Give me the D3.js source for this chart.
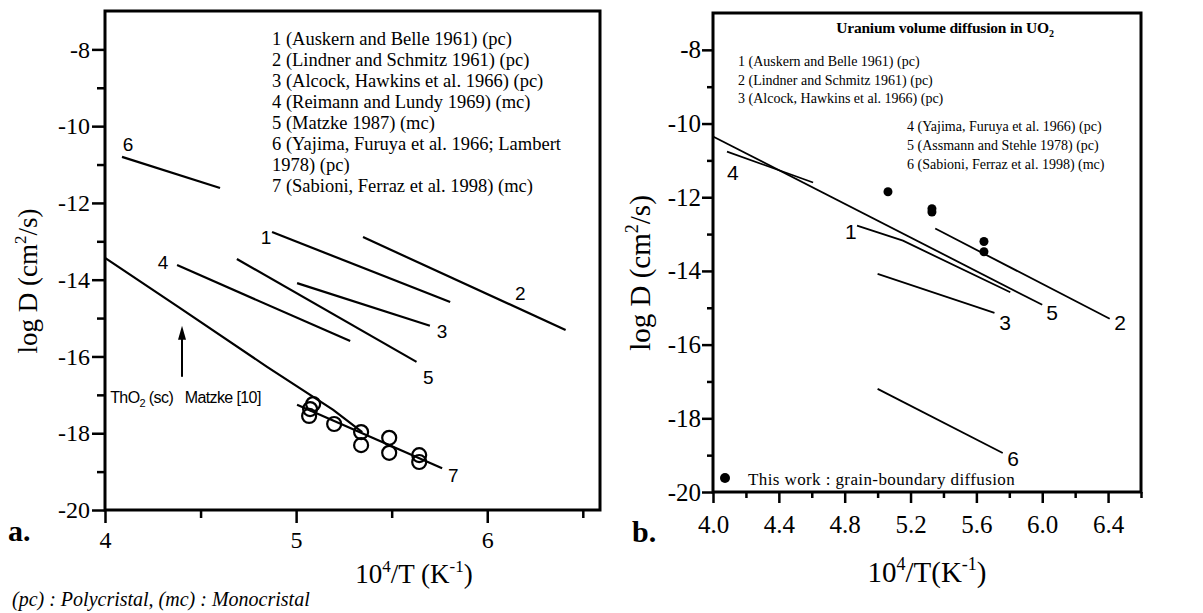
<!DOCTYPE html>
<html lang="en">
<head>
<meta charset="UTF-8">
<title>log D vs 10^4/T</title>
<script src="https://d3js.org/d3.v7.min.js"></script>
<style>
  body { margin: 0; background: #fff; }
  svg { display: block; }
  .serif { font-family: "Liberation Serif", "Times New Roman", serif; }
  .sans { font-family: "Liberation Sans", Arial, sans-serif; }
</style>
</head>
<body>
<svg id="chart" width="1203" height="613"></svg>
<script>
// ---- panel a data ----
const aMajorX = [4, 5, 6];
const aMinorX = [4.5, 5.5, 6.5];
const aMajorY = [-20, -18, -16, -14, -12, -10, -8];
const aMinorY = [-19, -17, -15, -13, -11, -9];

const aLine1 = [[4.874, -12.76], [5.806, -14.58]];
const aLine2 = [[5.35, -12.89], [6.41, -15.31]];
const aLine3 = [[5.005, -14.09], [5.70, -15.20]];
const aLine4 = [[4.377, -13.62], [5.283, -15.60]];
const aLine5 = [[4.69, -13.46], [5.63, -16.14]];
const aLine6 = [[4.089, -10.80], [4.602, -11.61]];
const aLine7 = [[5.005, -17.26], [5.764, -18.91]];
const aThO2 = [[4.0, -13.43], [4.393, -14.74], [4.848, -16.27], [5.194, -17.39], [5.346, -17.97]];

const aLineLabels = ["6", "1", "4", "2", "3", "5", "7"];
const aLabelX = [4.12, 4.843, 4.304, 6.173, 5.764, 5.691, 5.822];
const aLabelY = [-10.49, -12.89, -13.54, -14.35, -15.36, -16.56, -19.09];

const aCircleX = [5.073, 5.089, 5.068, 5.199, 5.34, 5.34, 5.487, 5.487, 5.644, 5.644];
const aCircleY = [-17.37, -17.24, -17.55, -17.76, -17.97, -18.31, -18.12, -18.51, -18.57, -18.75];

const aArrowX = 4.403;
const aArrowY = [-16.53, -15.2];

const aLegend = [
  "1 (Auskern and Belle 1961) (pc)",
  "2 (Lindner and Schmitz 1961) (pc)",
  "3 (Alcock, Hawkins et al. 1966) (pc)",
  "4 (Reimann and Lundy 1969) (mc)",
  "5 (Matzke 1987) (mc)",
  "6 (Yajima, Furuya et al. 1966; Lambert",
  "1978) (pc)",
  "7 (Sabioni, Ferraz et al. 1998) (mc)"
];

// ---- panel b data ----
const bMajorX = [4.0, 4.4, 4.8, 5.2, 5.6, 6.0, 6.4];
const bMinorX = [4.2, 4.6, 5.0, 5.4, 5.8, 6.2, 6.6];
const bMajorY = [-20, -18, -16, -14, -12, -10, -8];
const bMinorY = [-19, -17, -15, -13, -11, -9];

const bLine1 = [[4.875, -12.77], [5.154, -13.18], [5.806, -14.58]];
const bLine2 = [[5.35, -12.85], [6.41, -15.30]];
const bLine3 = [[5.0, -14.08], [5.71, -15.14]];
const bLine4 = [[4.085, -10.76], [4.608, -11.60]];
const bLine5 = [[4.0, -10.35], [6.0, -14.92]];
const bLine6 = [[5.0, -17.20], [5.76, -18.94]];

const bLineLabels = ["4", "1", "3", "5", "2", "6"];
const bLabelX = [4.12, 4.838, 5.774, 6.06, 6.473, 5.823];
const bLabelY = [-11.33, -12.93, -15.41, -15.14, -15.41, -19.08];

const bDotX = [5.063, 5.33, 5.33, 5.646, 5.646];
const bDotY = [-11.85, -12.31, -12.40, -13.20, -13.48];

const bLegend1 = [
  "1 (Auskern and Belle 1961) (pc)",
  "2 (Lindner and Schmitz 1961) (pc)",
  "3 (Alcock, Hawkins et al. 1966) (pc)"
];
const bLegend2 = [
  "4 (Yajima, Furuya et al. 1966) (pc)",
  "5 (Assmann and Stehle 1978) (pc)",
  "6 (Sabioni, Ferraz et al. 1998) (mc)"
];

const svg = d3.select("#chart");

function drawAxes(g, x, y, o) {
  // minor ticks first, then major ticks with labels
  g.append("g").attr("transform", `translate(0,${y.range()[0]})`)
    .call(d3.axisBottom(x).tickValues(o.minorX).tickSize(o.minorLen).tickFormat(""))
    .call(a => a.select(".domain").remove());
  g.append("g").attr("transform", `translate(0,${y.range()[0]})`)
    .call(d3.axisBottom(x).tickValues(o.majorX).tickSize(o.majorLen).tickPadding(o.padX).tickFormat(o.fmtX))
    .call(a => a.select(".domain").remove());
  g.append("g").attr("transform", `translate(${x.range()[0]},0)`)
    .call(d3.axisLeft(y).tickValues(o.minorY).tickSize(o.minorLen).tickFormat(""))
    .call(a => a.select(".domain").remove());
  g.append("g").attr("transform", `translate(${x.range()[0]},0)`)
    .call(d3.axisLeft(y).tickValues(o.majorY).tickSize(o.majorLen).tickPadding(o.padY).tickFormat(d => String(d)))
    .call(a => a.select(".domain").remove());
  g.selectAll(".tick line").attr("stroke", "#000").attr("stroke-width", 2.5);
  g.selectAll(".tick text")
    .attr("class", "serif")
    .style("font-size", o.tickFont + "px")
    .attr("fill", "#000");
  // frame
  g.append("rect")
    .attr("x", x.range()[0]).attr("y", y.range()[1])
    .attr("width", x.range()[1] - x.range()[0])
    .attr("height", y.range()[0] - y.range()[1])
    .attr("fill", "none").attr("stroke", "#000").attr("stroke-width", 3);
}

// ================= panel a =================
const ax = d3.scaleLinear().domain([4, 6.59]).range([105, 600]);
const ay = d3.scaleLinear().domain([-20, -7]).range([510, 11]);
const ga = svg.append("g");
drawAxes(ga, ax, ay, {
  minorX: aMinorX, majorX: aMajorX, minorY: aMinorY, majorY: aMajorY,
  minorLen: 8, majorLen: 13, padX: 8, padY: 2, tickFont: 24, fmtX: d => String(d)
});

const lineA = d3.line().x(d => ax(d[0])).y(d => ay(d[1]));
[aLine1, aLine2, aLine3, aLine4, aLine5, aLine6, aLine7, aThO2].forEach(l => {
  ga.append("path").attr("d", lineA(l))
    .attr("fill", "none").attr("stroke", "#000").attr("stroke-width", 2.2);
});

ga.selectAll(".alab").data(aLineLabels).enter().append("text")
  .attr("class", "sans")
  .attr("x", (d, i) => ax(aLabelX[i]))
  .attr("y", (d, i) => ay(aLabelY[i]))
  .attr("text-anchor", "middle").attr("dominant-baseline", "central")
  .style("font-size", "19px")
  .text(d => d);

ga.selectAll(".circ").data(aCircleX).enter().append("circle")
  .attr("cx", d => ax(d))
  .attr("cy", (d, i) => ay(aCircleY[i]))
  .attr("r", 7)
  .attr("fill", "none").attr("stroke", "#000").attr("stroke-width", 2.2);

// arrow for ThO2
ga.append("line")
  .attr("x1", ax(aArrowX)).attr("x2", ax(aArrowX))
  .attr("y1", ay(aArrowY[0])).attr("y2", ay(aArrowY[1]) + 12)
  .attr("stroke", "#000").attr("stroke-width", 2);
ga.append("path")
  .attr("d", `M${ax(aArrowX)},${ay(aArrowY[1])} l-4,14 l8,0 z`)
  .attr("fill", "#000");

const tho = ga.append("text").attr("class", "sans")
  .attr("x", ax(4.027)).attr("y", ay(-17.21))
  .style("font-size", "16px").style("letter-spacing", "-0.6px")
  .style("white-space", "pre");
tho.append("tspan").text("ThO");
tho.append("tspan").attr("dy", 4).style("font-size", "11px").text("2");
tho.append("tspan").attr("dy", -4).text(" (sc)   Matzke [10]");

ga.append("text").attr("class", "serif")
  .attr("x", 272).attr("y", 45)
  .style("font-size", "18.5px")
  .selectAll("tspan").data(aLegend).enter().append("tspan")
  .attr("x", 272).attr("dy", (d, i) => i === 0 ? 0 : 21)
  .text(d => d);

ga.append("text").attr("class", "serif")
  .attr("x", 8).attr("y", 541)
  .style("font-size", "30px").style("font-weight", "bold")
  .text("a.");

const axl = ga.append("text").attr("class", "serif")
  .attr("x", 414).attr("y", 583).attr("text-anchor", "middle")
  .style("font-size", "27px");
axl.append("tspan").text("10");
axl.append("tspan").attr("dy", -11).style("font-size", "17px").text("4");
axl.append("tspan").attr("dy", 11).text("/T (K");
axl.append("tspan").attr("dy", -11).style("font-size", "17px").text("-1");
axl.append("tspan").attr("dy", 11).text(")");

const ayl = ga.append("text").attr("class", "serif")
  .attr("transform", "translate(37,281) rotate(-90)").attr("text-anchor", "middle")
  .style("font-size", "27px");
ayl.append("tspan").text("log D (cm");
ayl.append("tspan").attr("dy", -11).style("font-size", "17px").text("2");
ayl.append("tspan").attr("dy", 11).text("/s)");

svg.append("text").attr("class", "serif")
  .attr("x", 12).attr("y", 606)
  .style("font-size", "20px").style("font-style", "italic")
  .text("(pc) : Polycristal, (mc) : Monocristal");

// ================= panel b =================
const bx = d3.scaleLinear().domain([4.0, 6.6]).range([713, 1141]);
const by = d3.scaleLinear().domain([-20, -7]).range([492, 13]);
const gb = svg.append("g");
drawAxes(gb, bx, by, {
  minorX: bMinorX, majorX: bMajorX, minorY: bMinorY, majorY: bMajorY,
  minorLen: 6, majorLen: 11, padX: 12, padY: 1, tickFont: 25, fmtX: d => d.toFixed(1)
});

const lineB = d3.line().x(d => bx(d[0])).y(d => by(d[1]));
[bLine1, bLine2, bLine3, bLine4, bLine5, bLine6].forEach(l => {
  gb.append("path").attr("d", lineB(l))
    .attr("fill", "none").attr("stroke", "#000").attr("stroke-width", 1.8);
});

gb.selectAll(".blab").data(bLineLabels).enter().append("text")
  .attr("class", "sans")
  .attr("x", (d, i) => bx(bLabelX[i]))
  .attr("y", (d, i) => by(bLabelY[i]))
  .attr("text-anchor", "middle").attr("dominant-baseline", "central")
  .style("font-size", "21px")
  .text(d => d);

gb.selectAll(".dot").data(bDotX).enter().append("circle")
  .attr("cx", d => bx(d))
  .attr("cy", (d, i) => by(bDotY[i]))
  .attr("r", 4.5)
  .attr("fill", "#000");

const tt = gb.append("text").attr("class", "serif")
  .attr("x", 945).attr("y", 33).attr("text-anchor", "middle")
  .style("font-size", "15.5px").style("font-weight", "bold").style("letter-spacing", "-0.2px");
tt.append("tspan").text("Uranium volume diffusion in UO");
tt.append("tspan").attr("dy", 4).style("font-size", "10px").text("2");

gb.append("text").attr("class", "serif")
  .attr("x", 738).attr("y", 66)
  .style("font-size", "14px")
  .selectAll("tspan").data(bLegend1).enter().append("tspan")
  .attr("x", 738).attr("dy", (d, i) => i === 0 ? 0 : 18.5)
  .text(d => d);

gb.append("text").attr("class", "serif")
  .attr("x", 907).attr("y", 131)
  .style("font-size", "14px")
  .selectAll("tspan").data(bLegend2).enter().append("tspan")
  .attr("x", 907).attr("dy", (d, i) => i === 0 ? 0 : 19)
  .text(d => d);

gb.append("circle").attr("cx", 725).attr("cy", 478).attr("r", 5).attr("fill", "#000");
gb.append("text").attr("class", "serif")
  .attr("x", 748).attr("y", 485)
  .style("font-size", "17px").style("letter-spacing", "0.4px")
  .text("This work : grain-boundary diffusion");

gb.append("text").attr("class", "serif")
  .attr("x", 632).attr("y", 542)
  .style("font-size", "30px").style("font-weight", "bold")
  .text("b.");

const bxl = gb.append("text").attr("class", "serif")
  .attr("x", 927).attr("y", 582).attr("text-anchor", "middle")
  .style("font-size", "29px");
bxl.append("tspan").text("10");
bxl.append("tspan").attr("dy", -12).style("font-size", "18px").text("4");
bxl.append("tspan").attr("dy", 12).text("/T(K");
bxl.append("tspan").attr("dy", -12).style("font-size", "18px").text("-1");
bxl.append("tspan").attr("dy", 12).text(")");

const byl = gb.append("text").attr("class", "serif")
  .attr("transform", "translate(650,273) rotate(-90)").attr("text-anchor", "middle")
  .style("font-size", "29px");
byl.append("tspan").text("log D (cm");
byl.append("tspan").attr("dy", -12).style("font-size", "18px").text("2");
byl.append("tspan").attr("dy", 12).text("/s)");
</script>
</body>
</html>
